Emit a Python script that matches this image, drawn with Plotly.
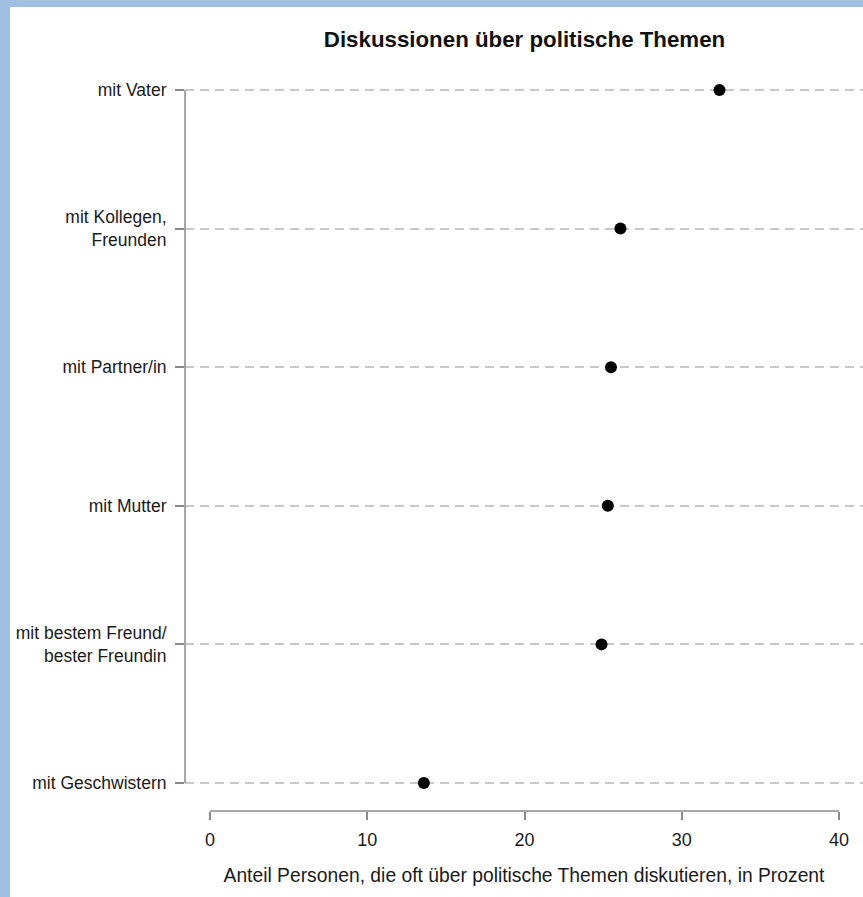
import plotly.graph_objects as go

# Data (top to bottom as in the chart)
categories = [
    "mit Vater",
    "mit Kollegen,<br>Freunden",
    "mit Partner/in",
    "mit Mutter",
    "mit bestem Freund/<br>bester Freundin",
    "mit Geschwistern",
]
values = [32.4, 26.1, 25.5, 25.3, 24.9, 13.6]
x_ticks = [0, 10, 20, 30, 40]
title_text = "<b>Diskussionen über politische Themen</b>"
x_title = "Anteil Personen, die oft über politische Themen diskutieren, in Prozent"

W, H = 863, 897
top_cat_px, bot_cat_px = 90, 783
xaxis_px = 811
n = len(categories)
step = (bot_cat_px - top_cat_px) / (n - 1)
pad = 0.05
plot_top = top_cat_px - pad * step
plot_bot_y = bot_cat_px + pad * step

L, R = 185, 0
T = plot_top
B = H - xaxis_px
plot_w = W - L - R
plot_h = H - T - B
x0_px, x40_px = 210, 839
ppu = (x40_px - x0_px) / (x_ticks[-1] - x_ticks[0])
xr = [x_ticks[0] - (x0_px - L) / ppu, x_ticks[0] + (W - R - x0_px) / ppu]
y_bottom_frac = (xaxis_px - plot_bot_y) / plot_h

FONT = "Liberation Sans, Arial, sans-serif"
AXIS_COL = "#8a8a8a"
TXT = "#1a1a1a"
BLUE = "#9fc0e0"

fig = go.Figure()
fig.add_trace(go.Scatter(
    x=values, y=categories, mode="markers",
    marker=dict(color="black", size=12),
    cliponaxis=False, showlegend=False, hoverinfo="x+y",
))

fig.update_layout(
    width=W, height=H,
    margin=dict(l=L, r=R, t=T, b=B, pad=0),
    paper_bgcolor=BLUE,
    plot_bgcolor="white",
    font=dict(family=FONT, size=17.5, color=TXT),
    title=dict(text=title_text, x=(524.5 - L) / plot_w, xref="paper", xanchor="center",
               y=1 - 39 / H, yref="container", yanchor="middle",
               font=dict(family=FONT, size=22.3, color="#111")),
    xaxis=dict(
        range=xr, tickvals=x_ticks, showgrid=False, zeroline=False,
        showline=False, ticks="outside", ticklen=8, tickwidth=1.5, tickcolor=AXIS_COL,
        anchor="free", position=0, ticklabelstandoff=4,
        tickfont=dict(size=18, color=TXT),
        title=dict(text=x_title, standoff=19, font=dict(size=19.3, color=TXT)),
    ),
    yaxis=dict(
        type="category", categoryorder="array", categoryarray=categories[::-1],
        range=[-pad, n - 1 + pad],
        domain=[y_bottom_frac, 1],
        showgrid=True, gridcolor="#c8c8c8", gridwidth=2, griddash="9px,6px",
        showline=False, zeroline=False,
        ticks="outside", ticklen=9, tickwidth=1.5, tickcolor=AXIS_COL,
        ticklabelstandoff=5,
        tickfont=dict(size=17.5, color=TXT),
    ),
    shapes=[
        dict(type="rect", xref="paper", yref="paper", layer="below",
             x0=(10 - L) / plot_w, x1=1.01, y0=-B / plot_h - 0.01, y1=(H - 7 - B) / plot_h,
             fillcolor="white", line=dict(width=0)),
        # x axis line spanning the tick range
        dict(type="line", xref="x", yref="paper",
             x0=x_ticks[0], x1=x_ticks[-1], y0=0, y1=0,
             line=dict(color=AXIS_COL, width=1.5)),
        # y axis line spanning first to last category
        dict(type="line", xref="paper", yref="y",
             x0=0, x1=0, y0=categories[-1], y1=categories[0],
             line=dict(color=AXIS_COL, width=1.5)),
    ],
)

fig.write_html(
    "out.html",
    config={"displayModeBar": False},
    post_script="document.body.style.margin='0';document.body.style.background='%s';" % BLUE,
)
